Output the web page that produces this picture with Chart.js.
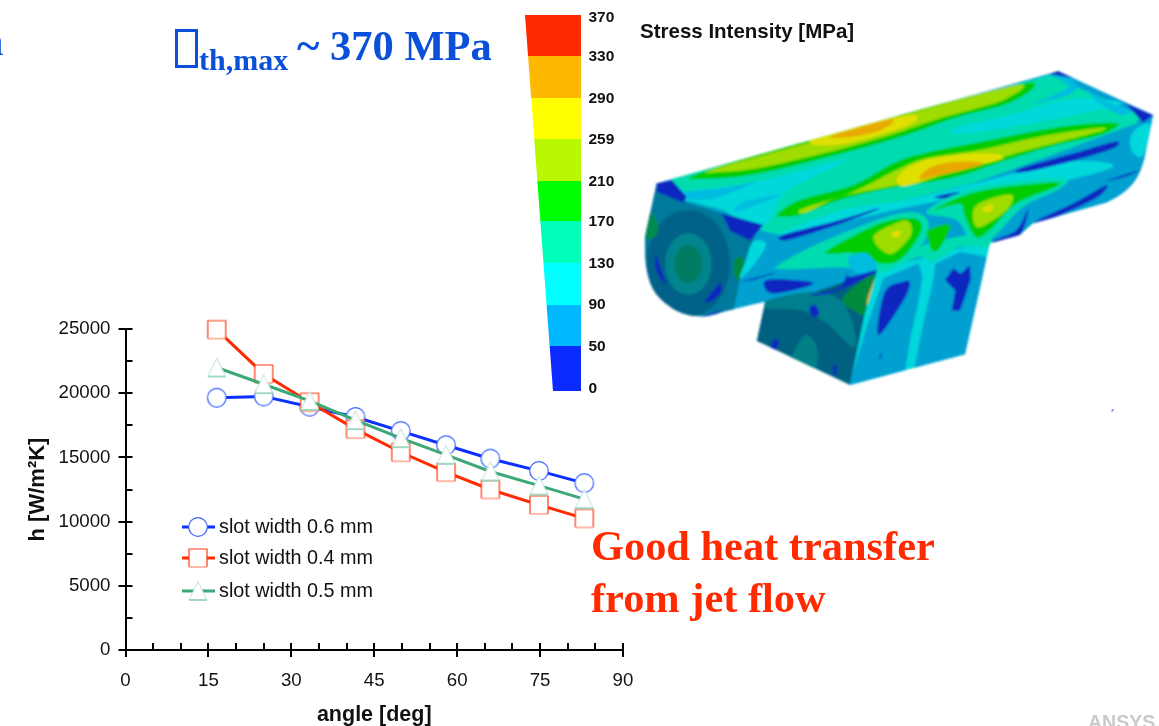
<!DOCTYPE html>
<html>
<head>
<meta charset="utf-8">
<title>Heat transfer and stress intensity</title>
<script src="https://cdn.jsdelivr.net/npm/chart.js@4/dist/chart.umd.min.js"></script>
<style>
  html, body { margin: 0; padding: 0; background: #fff; overflow: hidden; }
  #page { position: relative; width: 1159px; height: 726px; overflow: hidden; }
  #chartSlot { position: absolute; left: 0; top: 0; }
  .txt { position: absolute; white-space: nowrap; line-height: 1; }
  .serif { font-family: "Liberation Serif", serif; font-weight: bold; }
  .sans { font-family: "Liberation Sans", sans-serif; font-weight: bold; }
  .blue { color: #0a50d8; }
  .red { color: #ff2a00; }
  #sigma { position: absolute; left: 175px; top: 29px; width: 17px; height: 33px; border: 3px solid #0a50d8; }
  #fe { position: absolute; left: 640px; top: 60px; }
  #bar { position: absolute; left: 0; top: 0; }
</style>
</head>
<body>
<div id="page">
  <canvas id="chartSlot" width="1159" height="726"></canvas>
  <svg id="bar" width="1159" height="726"></svg>
  <svg id="fe" width="519" height="340" viewBox="0 0 1557 1020"></svg>

  <div class="txt serif blue" style="left:-20.5px;top:19px;font-size:43px">n</div>
  <div id="sigma"></div>
  <div class="txt serif blue" style="left:199px;top:45px;font-size:30px">th,max</div>
  <div class="txt serif blue" style="left:297px;top:24px;font-size:43px">~</div>
  <div class="txt serif blue" style="left:330px;top:25px;font-size:42.5px">370 MPa</div>
  <div class="txt sans" style="left:640px;top:21px;font-size:20.5px;color:#111">Stress Intensity [MPa]</div>
  <div class="txt serif red" style="left:591px;top:525px;font-size:42.4px">Good heat transfer</div>
  <div class="txt serif red" style="left:591px;top:577px;font-size:42.4px">from jet flow</div>
  <div class="txt" style="left:1111px;top:407px;font:6px 'Liberation Sans';color:#3050d0">z</div>
  <div class="txt sans" style="left:1088px;top:713px;font-size:19.5px;color:#c9c9c9">ANSYS</div>
</div>

<script>
// values
const angles = [16.5, 25, 33.3, 41.6, 49.8, 58, 66, 74.8, 83];
const slot06 = [19650, 19750, 18950, 18150, 17050, 15950, 14900, 13950, 13000];
const slot04 = [24950, 21500, 19300, 17200, 15400, 13850, 12500, 11300, 10250];
const slot05 = [22000, 20700, 19400, 17900, 16500, 15200, 13900, 12800, 11750];
const seriesNames = ['slot width 0.6 mm', 'slot width 0.4 mm', 'slot width 0.5 mm'];

const barLabels = ['370', '330', '290', '259', '210', '170', '130', '90', '50', '0'];
const barColors = ['#ff2a00', '#ffb800', '#ffff00', '#b8f800', '#00ff00', '#00ffb8', '#00ffff', '#00b8ff', '#0a2aff'];

// markers, white inside with a thin pale outline
function sprite(draw) {
  const c = document.createElement('canvas');
  c.width = 26; c.height = 26;
  const g = c.getContext('2d');
  g.translate(13, 13);
  draw(g);
  return c;
}
const circleMark = sprite(g => {
  g.beginPath(); g.arc(0, 0, 9.3, 0, Math.PI * 2);
  g.fillStyle = '#fff'; g.fill();
  g.strokeStyle = '#3a62ff'; g.lineWidth = 1.2; g.stroke();
});
const squareMark = sprite(g => {
  g.fillStyle = '#fff'; g.fillRect(-9, -9, 18, 18);
  g.strokeStyle = '#ff3a14'; g.lineWidth = 1.2;
  g.beginPath(); g.moveTo(-9, 9); g.lineTo(-9, -9); g.lineTo(9, -9); g.lineTo(9, 9); g.stroke();
  g.strokeStyle = '#ff8a70';
  g.beginPath(); g.moveTo(-9, 9); g.lineTo(9, 9); g.stroke();
});
const triangleMark = sprite(g => {
  g.beginPath(); g.moveTo(0, -9.5); g.lineTo(9, 9); g.lineTo(-9, 9); g.closePath();
  g.fillStyle = '#fff'; g.fill();
  g.strokeStyle = '#bfe3d5'; g.lineWidth = 1; g.stroke();
  g.strokeStyle = '#8fd0b4'; g.lineWidth = 1.5;
  g.beginPath(); g.moveTo(-9, 9); g.lineTo(9, 9); g.stroke();
});

// major ticks cross the axis, minor ones only point inwards
const axisTicks = {
  id: 'axisTicks',
  afterDraw(chart) {
    const { ctx, scales: { x, y } } = chart;
    ctx.save();
    ctx.strokeStyle = '#000';
    ctx.beginPath();
    ctx.lineWidth = 2;
    x.ticks.forEach(t => {
      const px = Math.round(x.getPixelForValue(t.value));
      const major = t.value % 15 === 0;
      ctx.moveTo(px, x.top - 7);
      ctx.lineTo(px, x.top + (major ? 7 : 0));
    });
    y.ticks.forEach(t => {
      const py = Math.round(y.getPixelForValue(t.value));
      const major = t.value % 5000 === 0;
      ctx.moveTo(y.right + 7, py);
      ctx.lineTo(y.right - (major ? 7 : 0), py);
    });
    ctx.stroke();
    ctx.restore();
  }
};

// legend sits inside the plot, line with the marker on it
const slotLegend = {
  id: 'slotLegend',
  afterDraw(chart) {
    const { ctx } = chart;
    const rows = [527, 558, 591];
    ctx.save();
    chart.data.datasets.forEach((ds, i) => {
      ctx.strokeStyle = ds.borderColor;
      ctx.lineWidth = 3;
      ctx.beginPath(); ctx.moveTo(182, rows[i]); ctx.lineTo(215, rows[i]); ctx.stroke();
      ctx.drawImage(ds.pointStyle, 198 - 13, rows[i] - 13);
      ctx.fillStyle = '#111';
      ctx.font = '19.8px "Liberation Sans"';
      ctx.textBaseline = 'middle';
      ctx.fillText(ds.label, 219, rows[i] + 1);
    });
    ctx.restore();
  }
};

new Chart(document.getElementById('chartSlot'), {
  type: 'line',
  data: {
    labels: angles,
    datasets: [
      { label: seriesNames[0], data: angles.map((a, i) => ({ x: a, y: slot06[i] })), borderColor: '#0a30ff', pointStyle: circleMark, order: 3 },
      { label: seriesNames[1], data: angles.map((a, i) => ({ x: a, y: slot04[i] })), borderColor: '#ff2a00', pointStyle: squareMark, order: 2 },
      { label: seriesNames[2], data: angles.map((a, i) => ({ x: a, y: slot05[i] })), borderColor: '#3ca878', pointStyle: triangleMark, order: 1 }
    ]
  },
  options: {
    responsive: false,
    animation: false,
    clip: false,
    layout: { padding: { left: 0, top: 329, right: 536, bottom: 0 } },
    datasets: { line: { borderWidth: 3, pointRadius: 10, tension: 0, clip: false } },
    plugins: { legend: { display: false }, tooltip: { enabled: false } },
    scales: {
      x: {
        type: 'linear',
        min: 0, max: 90,
        afterFit: s => { s.height = 76; },
        grid: { drawOnChartArea: false, drawTicks: false },
        border: { color: '#000', width: 2 },
        ticks: {
          stepSize: 5, autoSkip: false, maxRotation: 0, padding: 20, color: '#111',
          font: { family: 'Liberation Sans', size: 18.7 },
          callback: v => (v % 15 === 0 ? String(v) : '')
        },
        title: {
          display: true, text: 'angle [deg]', color: '#111',
          font: { family: 'Liberation Sans', size: 21.5, weight: 'bold' },
          padding: { top: 0, bottom: -2 }
        }
      },
      y: {
        min: 0, max: 25000,
        afterFit: s => { s.width = 125.5; },
        grid: { drawOnChartArea: false, drawTicks: false },
        border: { color: '#000', width: 2 },
        ticks: {
          stepSize: 2500, autoSkip: false, padding: 15, color: '#111',
          font: { family: 'Liberation Sans', size: 18.7 },
          callback: v => (v % 5000 === 0 ? String(v) : '')
        },
        title: {
          display: true, text: 'h [W/m\u00b2K]', color: '#111',
          font: { family: 'Liberation Sans', size: 22, weight: 'bold' },
          padding: { top: 25, bottom: 0 }
        }
      }
    }
  },
  plugins: [axisTicks, slotLegend]
});

const NS = 'http://www.w3.org/2000/svg';
function el(parent, name, attrs, text) {
  const n = document.createElementNS(NS, name);
  for (const k in attrs) n.setAttribute(k, attrs[k]);
  if (text !== undefined) n.textContent = text;
  parent.appendChild(n);
  return n;
}

// colour scale: a wedge, narrower at the bottom
const bar = document.getElementById('bar');
const bandEdges = [15, 56, 98, 139, 181, 221, 263, 305, 346, 391];
const labelRows = [16, 55, 97, 138, 180, 220, 262, 303, 345, 387];
const wedgeLeft = y => 525 + (y - 15) * 28 / 376;
barColors.forEach((c, i) => {
  const a = bandEdges[i], b = bandEdges[i + 1];
  el(bar, 'polygon', { fill: c, points: `${wedgeLeft(a)},${a} 581,${a} 581,${b} ${wedgeLeft(b)},${b}` });
});
barLabels.forEach((t, i) => {
  el(bar, 'text', {
    x: 588.5, y: labelRows[i] + 5.5,
    'font-family': 'Liberation Sans', 'font-weight': 'bold', 'font-size': 15.5, fill: '#111'
  }, t);
});

// stress contour picture of the part, coordinates in 3x space of the 519x340 box
const fe = document.getElementById('fe');
const defs = el(fe, 'defs', {});
const SIL = 'M50 370 L1255 33 L1540 165 L1515 290 C1500 350 1480 390 1400 428 L1180 490 L1140 525 L1050 550 L975 883 L630 975 L350 843 L375 725 L250 755 C170 785 110 765 60 715 C25 680 15 620 15 570 L15 530 Z';
el(el(defs, 'clipPath', { id: 'silClip' }), 'path', { d: SIL });
el(el(defs, 'filter', { id: 'soft', x: '-5%', y: '-5%', width: '110%', height: '110%' }), 'feGaussianBlur', { stdDeviation: 2.6 });
const outer = el(fe, 'g', { filter: 'url(#soft)' });
const part = el(outer, 'g', { 'clip-path': 'url(#silClip)' });

const dark = '#0a28c0', blue = '#00a0d0', sky = '#00bce0', cyan = '#00d8dc', aqua = '#00dcb0',
  green = '#00cc00', lime = '#9fdc00', yel = '#e0e000', org = '#e8a800';

// closed smooth outline through the points
function blobPath(p) {
  const n = p.length;
  let d = `M${p[0][0]} ${p[0][1]}`;
  for (let i = 0; i < n; i++) {
    const a = p[(i - 1 + n) % n], b = p[i], c = p[(i + 1) % n], e = p[(i + 2) % n];
    d += ` C${b[0] + (c[0] - a[0]) / 6} ${b[1] + (c[1] - a[1]) / 6} ${c[0] - (e[0] - b[0]) / 6} ${c[1] - (e[1] - b[1]) / 6} ${c[0]} ${c[1]}`;
  }
  return d + 'Z';
}
const blob = (fill, p, g) => el(g || part, 'path', { fill, d: blobPath(p) });
const poly = (fill, p, g) => el(g || part, 'polygon', { fill, points: p.map(q => q.join(',')).join(' ') });

el(part, 'path', { d: SIL, fill: blue });

// left end cap
el(el(defs, 'clipPath', { id: 'capClip' }), 'polygon', { points: '0,360 50,370 135,425 360,495 330,560 300,660 270,800 0,800' });
const cap = el(part, 'g', { 'clip-path': 'url(#capClip)' });
el(cap, 'rect', { x: 0, y: 350, width: 400, height: 460, fill: '#007a9c' });
el(cap, 'ellipse', { cx: 145, cy: 610, rx: 125, ry: 160, fill: '#006288' });
el(cap, 'ellipse', { cx: 145, cy: 612, rx: 70, ry: 92, fill: '#00858f' });
el(cap, 'ellipse', { cx: 145, cy: 612, rx: 42, ry: 58, fill: '#007c62' });
blob('#008a50', [[32, 460], [55, 495], [45, 530], [18, 535], [20, 490]], cap);
blob('#008a3c', [[285, 595], [312, 600], [298, 660], [282, 640]], cap);
blob(dark, [[48, 585], [62, 625], [78, 672], [58, 650], [46, 615]], cap);
blob(dark, [[195, 725], [222, 690], [242, 670], [242, 700], [215, 722]], cap);
blob(dark, [[120, 762], [170, 772], [250, 750], [205, 772], [160, 785]], cap);

// top surface, mostly aqua with cyan patches between the bands
poly(aqua, [[90, 355], [1230, 45], [1500, 165], [1490, 190], [1250, 280], [1000, 370], [800, 420], [560, 480], [420, 525], [340, 505], [250, 450], [135, 420]]);
blob(cyan, [[120, 400], [340, 368], [620, 300], [440, 395], [370, 495], [250, 450]]);
blob(cyan, [[940, 208], [1130, 160], [1290, 118], [1445, 130], [1290, 168], [1000, 218]]);
blob(cyan, [[420, 522], [600, 452], [800, 420], [1000, 372], [1150, 335], [1000, 398], [800, 442], [560, 497]]);
blob(sky, [[1180, 132], [1290, 102], [1308, 72], [1262, 38], [1240, 45], [1285, 78], [1255, 100]]);
blob(sky, [[290, 455], [420, 405], [340, 418], [300, 432]]);
blob(sky, [[130, 398], [250, 385], [345, 366], [235, 412], [165, 420]]);
blob(sky, [[1340, 90], [1400, 125], [1470, 150], [1440, 165], [1380, 130]]);

// upper band
blob(green, [[165, 345], [500, 240], [1100, 82], [1182, 80], [1100, 132], [950, 172], [800, 225], [600, 282], [350, 342], [200, 356]]);
blob(lime, [[215, 330], [500, 250], [1105, 80], [1090, 120], [900, 175], [750, 225], [550, 280], [350, 325], [240, 336]]);
blob(yel, [[510, 242], [580, 222], [740, 178], [822, 165], [825, 185], [750, 215], [620, 250], [540, 256]]);
blob(org, [[575, 228], [745, 180], [750, 195], [700, 218], [620, 232]]);

// middle band
blob(green, [[415, 460], [480, 420], [640, 375], [760, 310], [850, 280], [1000, 250], [1150, 220], [1300, 195], [1432, 190], [1380, 225], [1250, 255], [1100, 300], [950, 350], [750, 385], [600, 420], [480, 465], [420, 470]]);
blob(lime, [[485, 447], [640, 395], [770, 330], [860, 295], [1020, 270], [1200, 230], [1370, 205], [1392, 210], [1300, 235], [1090, 290], [960, 330], [770, 375], [600, 410], [500, 457]]);
blob(yel, [[770, 360], [800, 325], [880, 295], [1020, 280], [1092, 290], [1040, 310], [950, 330], [800, 377]]);
blob(org, [[838, 350], [880, 318], [950, 305], [1030, 310], [970, 330], [880, 350], [850, 358]]);

// right part of the cylinder
blob(cyan, [[1000, 382], [1250, 310], [1400, 308], [1398, 330], [1200, 378], [1020, 402]]);
blob(dark, [[1140, 326], [1300, 280], [1425, 245], [1420, 265], [1300, 302], [1150, 337]]);
blob(dark, [[1190, 482], [1300, 430], [1400, 375], [1372, 412], [1280, 457], [1200, 490]]);
blob(dark, [[1400, 362], [1500, 330], [1450, 352]]);
blob(cyan, [[1470, 240], [1490, 205], [1530, 195], [1510, 285], [1480, 280]]);
blob(dark, [[885, 410], [960, 395], [920, 415]]);
poly(dark, [[1455, 130], [1540, 165], [1510, 188]]);
poly(dark, [[1228, 42], [1255, 33], [1300, 55]]);

// left part of the cylinder
blob(cyan, [[340, 545], [378, 552], [345, 610], [300, 655], [318, 600]]);
blob(dark, [[430, 525], [600, 480], [715, 445], [680, 462], [560, 505], [440, 541]]);
poly(dark, [[50, 370], [95, 360], [140, 410], [130, 428], [50, 395]]);
poly(dark, [[245, 460], [370, 495], [330, 542], [270, 512]]);

// neck, dark side
const neckLeft = [[375, 725], [510, 700], [630, 660], [712, 630], [675, 760], [630, 975], [350, 843]];
poly('#006080', neckLeft);
blob('#00808f', [[370, 725], [510, 695], [600, 720], [640, 800], [640, 862], [560, 790], [480, 750], [380, 745]]);
blob('#008a3c', [[610, 710], [705, 645], [685, 760], [630, 745]]);
blob(org, [[680, 725], [708, 650], [695, 740]]);
blob('#008085', [[460, 882], [495, 825], [530, 860], [525, 925], [460, 905]]);
blob(dark, [[508, 745], [525, 735], [538, 760], [520, 772]]);
blob(dark, [[392, 860], [405, 838], [416, 845], [408, 868]]);
blob(dark, [[578, 925], [588, 915], [588, 950]]);

// neck, lit side
const neckRight = [[712, 630], [1052, 540], [975, 883], [630, 975], [675, 760]];
poly(cyan, neckRight);
poly(blue, [[730, 655], [835, 610], [848, 650], [832, 740], [812, 830], [795, 935], [625, 985], [680, 800]]);
poly(blue, [[885, 612], [960, 575], [1040, 590], [985, 890], [822, 930], [850, 790], [880, 660]]);
blob(aqua, [[715, 640], [840, 560], [1030, 520], [1045, 560], [960, 560], [880, 605], [840, 590], [760, 625]]);
blob(dark, [[715, 825], [735, 695], [790, 665], [810, 670], [790, 722]]);
poly(dark, [[915, 660], [940, 625], [962, 642], [990, 615], [992, 660], [960, 752], [935, 752], [946, 692]]);
poly(dark, [[716, 895], [726, 875], [722, 897]]);

// junction lobes
blob(aqua, [[420, 612], [560, 540], [780, 460], [862, 480], [840, 560], [722, 632], [600, 622], [430, 628]]);
blob(green, [[565, 570], [720, 490], [820, 475], [845, 510], [790, 590], [730, 612], [640, 580], [580, 582]]);
blob(lime, [[700, 530], [780, 485], [810, 490], [810, 530], [750, 582]]);
blob(yel, [[752, 520], [780, 512], [780, 525], [765, 533]]);
blob(aqua, [[860, 455], [1000, 385], [1260, 355], [1260, 385], [1150, 440], [1060, 530], [1000, 550], [950, 480]]);
blob(green, [[880, 450], [1010, 395], [1220, 368], [1252, 378], [1130, 430], [1060, 500], [1010, 532], [975, 470], [960, 432]]);
blob(lime, [[1000, 450], [1040, 420], [1115, 405], [1100, 450], [1015, 502]]);
blob(yel, [[1028, 445], [1055, 433], [1056, 450], [1036, 456]]);
blob(green, [[865, 510], [930, 495], [905, 555], [880, 575], [865, 540]]);

// crescents where the neck meets the cylinder
blob(dark, [[1060, 542], [1130, 510], [1165, 445], [1142, 522], [1082, 552]]);
blob(sky, [[628, 590], [680, 580], [712, 625], [660, 640], [630, 620]]);
blob(dark, [[510, 704], [600, 680], [630, 612], [626, 650], [712, 630], [640, 672], [560, 702]]);
blob(dark, [[380, 660], [510, 665], [500, 680], [395, 700]]);
blob(dark, [[305, 665], [410, 637], [350, 657]]);
</script>
</body>
</html>
